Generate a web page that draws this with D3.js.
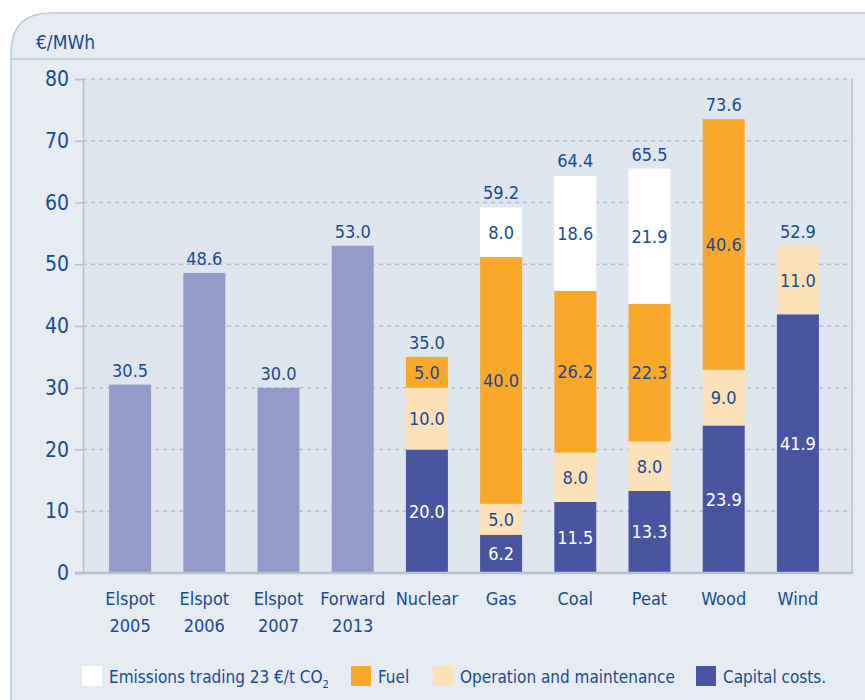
<!DOCTYPE html>
<html>
<head>
<meta charset="utf-8">
<script src="https://cdn.jsdelivr.net/npm/d3@7"></script>
<style>
  body { margin: 0; background: #fff; }
  svg text { font-family: "DejaVu Sans Condensed", "DejaVu Sans", sans-serif; font-stretch: condensed; }
</style>
</head>
<body>
<div id="chart"></div>
<script>
// categories (two label lines each)
var categories = ['Elspot 2005', 'Elspot 2006', 'Elspot 2007', 'Forward 2013',
  'Nuclear', 'Gas', 'Coal', 'Peat', 'Wood', 'Wind'];
var labelLines = [['Elspot', '2005'], ['Elspot', '2006'], ['Elspot', '2007'], ['Forward', '2013'],
  ['Nuclear'], ['Gas'], ['Coal'], ['Peat'], ['Wood'], ['Wind']];

// market prices (single bars)
var priceValues = [30.5, 48.6, 30.0, 53.0, 0, 0, 0, 0, 0, 0];

// production cost components
var capitalCosts = [0, 0, 0, 0, 20.0, 6.2, 11.5, 13.3, 23.9, 41.9];
var operationMaint = [0, 0, 0, 0, 10.0, 5.0, 8.0, 8.0, 9.0, 11.0];
var fuelCosts = [0, 0, 0, 0, 5.0, 40.0, 26.2, 22.3, 40.6, 0];
var emissionsCosts = [0, 0, 0, 0, 0, 8.0, 18.6, 21.9, 0, 0];

// totals printed above the bars
var totals = [30.5, 48.6, 30.0, 53.0, 35.0, 59.2, 64.4, 65.5, 73.6, 52.9];

var yTicks = [0, 10, 20, 30, 40, 50, 60, 70, 80];

var seriesKeys = ['capital', 'om', 'fuel', 'emissions'];
var legendLabels = ['Emissions trading 23 \u20ac/t CO', 'Fuel', 'Operation and maintenance', 'Capital costs.'];

var colors = {
  price: '#939bc8',
  capital: '#4a55a2',
  om: '#fde1b9',
  fuel: '#f9a82a',
  emissions: '#ffffff'
};
var textBlue = '#1a4a93';

var W = 865, H = 700;
var svg = d3.select('#chart').append('svg')
  .attr('width', W).attr('height', H);

// outer panel with rounded top-left corner
svg.append('path')
  .attr('d', 'M11,' + (H + 5) + ' L11,53 Q11,13 51,13 L' + (W + 5) + ',13 L' + (W + 5) + ',' + (H + 5) + ' Z')
  .attr('fill', '#e7ecf2')
  .attr('stroke', '#b9c8d8')
  .attr('stroke-width', 1.5);

svg.append('line')
  .attr('x1', 11).attr('x2', W).attr('y1', 59).attr('y2', 59)
  .attr('stroke', '#b9c8d8').attr('stroke-width', 1.5);

svg.append('text')
  .attr('x', 36).attr('y', 49)
  .attr('fill', textBlue)
  .style('font-size', '19px')
  .text('\u20ac/MWh');

var plot = { left: 83, right: 852, top: 79, bottom: 573 };

var yScale = d3.scaleLinear().domain([0, 80]).range([plot.bottom, plot.top]);
var xScale = d3.scaleBand().domain(categories).range([93, 835]).paddingInner(0.434).paddingOuter(0.217);

// plot background
svg.append('rect')
  .attr('x', plot.left).attr('y', plot.top)
  .attr('width', plot.right - plot.left).attr('height', plot.bottom - plot.top)
  .attr('fill', '#dfe6ee');

svg.append('line')
  .attr('x1', plot.right).attr('x2', plot.right)
  .attr('y1', plot.top).attr('y2', plot.bottom)
  .attr('stroke', '#b3c2d2').attr('stroke-width', 1.5);

// y axis with dashed gridlines
var yAxis = svg.append('g')
  .attr('transform', 'translate(' + plot.left + ',0)')
  .call(d3.axisLeft(yScale).tickValues(yTicks).tickSize(8).tickPadding(6));
yAxis.select('.domain').attr('stroke', '#b3c2d2').attr('stroke-width', 1.5);
yAxis.selectAll('.tick line').attr('stroke', '#b3c2d2').attr('stroke-width', 1.5);
yAxis.selectAll('.tick text')
  .attr('fill', textBlue)
  .style('font-size', '21px')
  .style('font-family', '"DejaVu Sans Condensed", "DejaVu Sans", sans-serif');

svg.append('g').selectAll('line')
  .data(yTicks.filter(function (d) { return d > 0; }))
  .enter().append('line')
  .attr('x1', plot.left).attr('x2', plot.right)
  .attr('y1', function (d) { return yScale(d); })
  .attr('y2', function (d) { return yScale(d); })
  .attr('stroke', '#b3c2d2')
  .attr('stroke-width', 1.5)
  .attr('stroke-dasharray', '4,4');

// market price bars
var bw = xScale.bandwidth();
svg.append('g').selectAll('rect')
  .data(categories.filter(function (d, i) { return priceValues[i] > 0; }))
  .enter().append('rect')
  .attr('x', function (d) { return xScale(d); })
  .attr('y', function (d) { return yScale(priceValues[categories.indexOf(d)]); })
  .attr('width', bw)
  .attr('height', function (d) { return plot.bottom - yScale(priceValues[categories.indexOf(d)]); })
  .attr('fill', colors.price);

// stacked cost bars
var table = categories.map(function (c, i) {
  return { cat: c, capital: capitalCosts[i], om: operationMaint[i], fuel: fuelCosts[i], emissions: emissionsCosts[i] };
});
var stacked = d3.stack().keys(seriesKeys)(table);

var layers = svg.append('g').selectAll('g')
  .data(stacked)
  .enter().append('g')
  .attr('fill', function (d) { return colors[d.key]; });

layers.selectAll('rect')
  .data(function (d) { return d.filter(function (s) { return s[1] - s[0] > 0; }); })
  .enter().append('rect')
  .attr('x', function (d) { return xScale(d.data.cat); })
  .attr('y', function (d) { return yScale(d[1]); })
  .attr('width', bw)
  .attr('height', function (d) { return yScale(d[0]) - yScale(d[1]); });

layers.selectAll('text')
  .data(function (d) {
    return d.filter(function (s) { return s[1] - s[0] > 0; })
      .map(function (s) { s.key = d.key; return s; });
  })
  .enter().append('text')
  .attr('x', function (d) { return xScale(d.data.cat) + bw / 2; })
  .attr('y', function (d) { return yScale((d[0] + d[1]) / 2); })
  .attr('dy', '0.36em')
  .attr('text-anchor', 'middle')
  .attr('fill', function (d) { return d.key === 'capital' ? '#ffffff' : textBlue; })
  .style('font-size', '18px')
  .text(function (d) { return d3.format('.1f')(d[1] - d[0]); });

// totals above bars
svg.append('g').selectAll('text')
  .data(categories)
  .enter().append('text')
  .attr('x', function (d) { return xScale(d) + bw / 2; })
  .attr('y', function (d, i) { return yScale(totals[i]) - 8; })
  .attr('text-anchor', 'middle')
  .attr('fill', textBlue)
  .style('font-size', '18px')
  .text(function (d, i) { return d3.format('.1f')(totals[i]); });

// baseline
svg.append('line')
  .attr('x1', plot.left - 8).attr('x2', plot.right + 1)
  .attr('y1', plot.bottom).attr('y2', plot.bottom)
  .attr('stroke', '#b3c2d2').attr('stroke-width', 2.5);

// category labels
var catLabels = svg.append('g').selectAll('text')
  .data(categories)
  .enter().append('text')
  .attr('x', function (d) { return xScale(d) + bw / 2; })
  .attr('y', 605)
  .attr('text-anchor', 'middle')
  .attr('fill', textBlue)
  .style('font-size', '18px');
catLabels.selectAll('tspan')
  .data(function (d, i) { return labelLines[i]; })
  .enter().append('tspan')
  .attr('x', function () { return d3.select(this.parentNode).attr('x'); })
  .attr('dy', function (d, i) { return i === 0 ? 0 : 27; })
  .text(function (d) { return d; });

// legend
var legendKeys = ['emissions', 'fuel', 'om', 'capital'];
var legendX = [82, 351, 433, 696];
var legend = svg.append('g').selectAll('g')
  .data(legendKeys)
  .enter().append('g')
  .attr('transform', function (d, i) { return 'translate(' + legendX[i] + ',666)'; });
legend.append('rect')
  .attr('width', 20).attr('height', 20)
  .attr('fill', function (d) { return colors[d]; });
var legendText = legend.append('text')
  .attr('x', 27).attr('y', 17)
  .attr('fill', textBlue)
  .style('font-size', '17px')
  .text(function (d, i) { return legendLabels[i]; });
legendText.filter(function (d) { return d === 'emissions'; })
  .append('tspan')
  .attr('dy', 5)
  .style('font-size', '11px')
  .text('2');
</script>
</body>
</html>
